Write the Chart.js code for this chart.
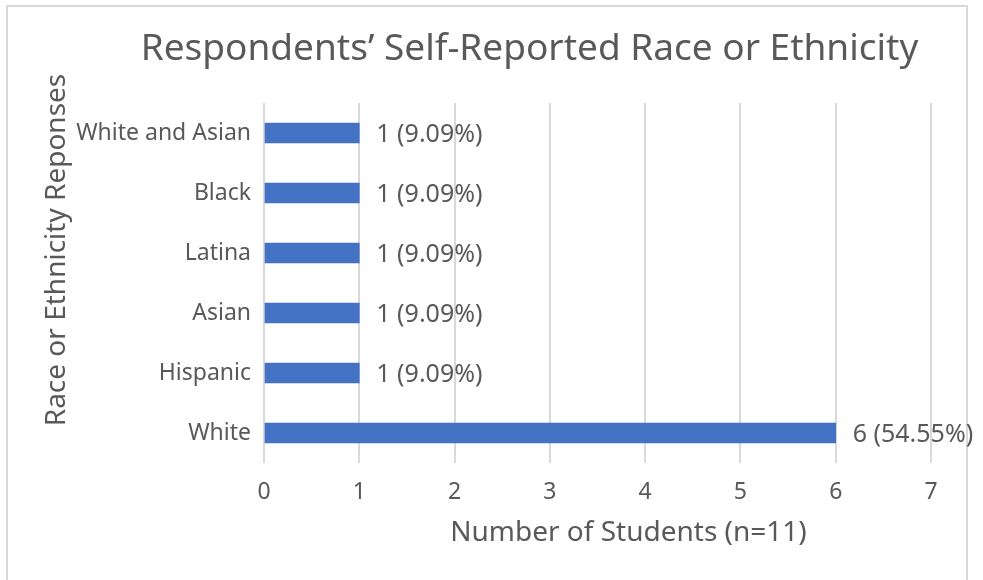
<!DOCTYPE html>
<html>
<head>
<meta charset="utf-8">
<script src="https://cdn.jsdelivr.net/npm/chart.js@4.4.1/dist/chart.umd.min.js"></script>
<style>
  body { margin: 0; background: #fff; }
  #wrap { position: relative; width: 983px; height: 580px; overflow: hidden; }
  #frame { position: absolute; left: 6px; top: 5px; width: 962px; height: 600px; border: 2px solid #d9d9d9; box-sizing: border-box; }
  canvas { position: absolute; left: 0; top: 0; }
</style>
</head>
<body>
<div id="wrap">
  <div id="frame"></div>
  <canvas id="myChart" width="983" height="580"></canvas>
</div>
<script>
const categories = ["White and Asian", "Black", "Latina", "Asian", "Hispanic", "White"];
const counts = [1, 1, 1, 1, 1, 6];
const percents = ["9.09", "9.09", "9.09", "9.09", "9.09", "54.55"];
const xTicks = [0, 1, 2, 3, 4, 5, 6, 7];
const chartTitle = "Respondents’ Self-Reported Race or Ethnicity";
const xTitle = "Number of Students (n=11)";
const yTitle = "Race or Ethnicity Reponses";

const textColor = "#595959";
const fontFamily = "'Noto Sans', 'Open Sans', sans-serif";

// value labels to the right of each bar
const barLabels = {
  id: "barLabels",
  afterDatasetsDraw(chart) {
    const ctx = chart.ctx;
    const meta = chart.getDatasetMeta(0);
    ctx.save();
    ctx.font = "25px " + fontFamily;
    ctx.fillStyle = textColor;
    ctx.textAlign = "left";
    ctx.textBaseline = "middle";
    meta.data.forEach((bar, i) => {
      ctx.fillText(`${counts[i]} (${percents[i]}%)`, bar.x + 17, bar.y + 2);
    });
    ctx.restore();
  },
};

// chart and axis titles, placed like the Excel original (not centred on the plot)
const titles = {
  id: "titles",
  afterDraw(chart) {
    const { ctx, chartArea } = chart;
    const mid = (chartArea.left + chartArea.right) / 2;
    ctx.save();
    ctx.fillStyle = textColor;
    ctx.textAlign = "center";
    ctx.textBaseline = "middle";
    ctx.font = "37px " + fontFamily;
    ctx.fillText(chartTitle, mid - 68, 49);
    ctx.font = "28px " + fontFamily;
    ctx.fillText(xTitle, mid + 31, 533);
    ctx.translate(57, chartArea.top + 147);
    ctx.rotate(-Math.PI / 2);
    ctx.fillText(yTitle, 0, 0);
    ctx.restore();
  },
};

const ctx = document.getElementById("myChart");
let chart = new Chart(ctx, {
  type: "bar",
  data: {
    labels: categories,
    datasets: [
      {
        data: counts,
        backgroundColor: "#4472c4",
        borderWidth: 0,
        barThickness: 20,
      },
    ],
  },
  options: {
    indexAxis: "y",
    responsive: false,
    animation: false,
    layout: { padding: { left: 0, right: 52, top: 103, bottom: 0 } },
    plugins: {
      legend: { display: false },
      tooltip: { enabled: false },
      title: { display: false },
    },
    scales: {
      x: {
        min: 0,
        max: 7,
        afterBuildTicks(scale) {
          scale.ticks = xTicks.map((v) => ({ value: v }));
        },
        afterFit(scale) {
          scale.height = 117;
        },
        grid: { color: "#d9d9d9", lineWidth: 2, drawTicks: false },
        border: { display: false },
        ticks: {
          color: textColor,
          padding: 16,
          font: { family: fontFamily, size: 23 },
        },
      },
      y: {
        afterFit(scale) {
          scale.width = 264;
        },
        grid: { display: false },
        border: { display: false },
        ticks: {
          color: textColor,
          padding: 5,
          font: { family: fontFamily, size: 23 },
        },
      },
    },
  },
  plugins: [barLabels, titles],
});
</script>
</body>
</html>
